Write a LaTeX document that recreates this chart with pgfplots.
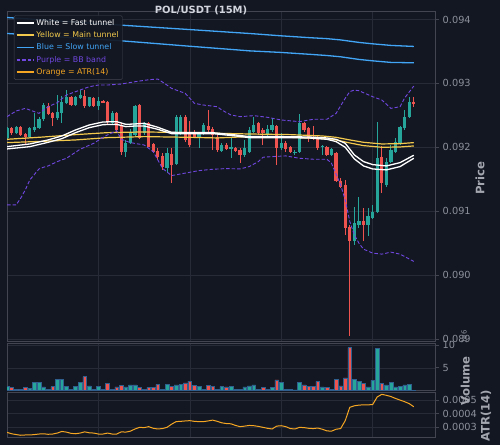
\documentclass[border=0pt]{standalone}
\usepackage{pgfplots}
\pgfplotsset{compat=1.18}
\usepackage{pgfplotstable}
\usepackage{fontspec}
\setmainfont{DejaVu Sans}
\definecolor{bg}{HTML}{131722}
\definecolor{spine}{HTML}{434651}
\definecolor{gridc}{HTML}{262B37}
\definecolor{tickc}{HTML}{8C909A}
\definecolor{labc}{HTML}{A3A6AE}
\definecolor{titc}{HTML}{D1D4DC}
\definecolor{up}{HTML}{26A69A}
\definecolor{dn}{HTML}{EF5350}
\definecolor{yel}{HTML}{F2C94C}
\definecolor{blu}{HTML}{42A5F5}
\definecolor{pur}{HTML}{7047E0}
\definecolor{ora}{HTML}{F5A623}
\definecolor{vedge}{HTML}{2F5F8F}

\pgfplotstableread{
k o h l c v
0 0.092141 0.092313 0.092125 0.092297 0.95
2 0.092219 0.092339 0.092203 0.092323 0.30
5 0.092167 0.092313 0.092141 0.092297 0.45
6 0.092271 0.092531 0.092245 0.092323 1.90
7 0.092297 0.092479 0.092281 0.092438 1.90
8 0.092438 0.092688 0.092417 0.092661 0.85
11 0.092453 0.092818 0.092427 0.092557 2.50
12 0.092542 0.092802 0.092385 0.092714 2.50
13 0.092688 0.092896 0.092677 0.092792 0.90
15 0.092661 0.092802 0.092646 0.092781 0.90
16 0.092766 0.092896 0.092750 0.092818 1.90
18 0.092646 0.092792 0.092635 0.092781 1.05
20 0.092646 0.092781 0.092583 0.092729 0.90
23 0.092375 0.092573 0.092365 0.092542 0.35
26 0.091932 0.092115 0.091854 0.092073 0.85
27 0.092063 0.092281 0.092052 0.092245 1.30
28 0.092193 0.092661 0.092177 0.092646 1.30
30 0.092219 0.092401 0.092193 0.092385 0.30
35 0.091672 0.091984 0.091594 0.091906 1.40
37 0.091740 0.092505 0.091724 0.092479 1.30
38 0.092219 0.092505 0.092193 0.092479 1.40
42 0.092141 0.092245 0.091984 0.092219 0.90
43 0.092219 0.092375 0.092193 0.092349 0.30
47 0.091948 0.092063 0.091932 0.092036 0.90
49 0.091974 0.092167 0.091828 0.092000 0.90
52 0.091880 0.092115 0.091854 0.091984 0.85
53 0.091932 0.092323 0.091906 0.092271 1.05
54 0.092245 0.092479 0.092219 0.092349 1.30
57 0.092203 0.092349 0.092177 0.092281 0.30
58 0.092271 0.092453 0.092245 0.092349 0.70
60 0.091984 0.092219 0.091958 0.092063 1.90
63 0.091906 0.091958 0.091880 0.091932 0.20
64 0.091932 0.092521 0.091917 0.092375 1.80
69 0.092000 0.092036 0.091880 0.092021 0.85
71 0.091880 0.091984 0.091865 0.091969 0.30
76 0.090526 0.091073 0.090474 0.090813 2.40
77 0.090786 0.091229 0.090734 0.090854 2.10
79 0.090786 0.091047 0.090604 0.090917 0.85
80 0.090891 0.091099 0.090875 0.090995 2.25
81 0.090995 0.092401 0.090969 0.091828 9.30
83 0.091411 0.091828 0.091385 0.091776 1.30
84 0.091776 0.092036 0.091750 0.091958 1.80
85 0.091932 0.092141 0.091906 0.092089 0.85
86 0.092063 0.092333 0.092036 0.092323 1.00
87 0.092297 0.092583 0.092271 0.092479 1.30
88 0.092479 0.092792 0.092469 0.092714 1.40
}\upc

\pgfplotstableread{
k o h l c v
1 0.092297 0.092313 0.092193 0.092219 0.70
3 0.092323 0.092339 0.092182 0.092193 0.30
4 0.092203 0.092219 0.092036 0.092167 0.70
9 0.092646 0.092688 0.092505 0.092521 0.30
10 0.092542 0.092557 0.092333 0.092453 0.90
14 0.092781 0.092802 0.092646 0.092661 0.30
17 0.092802 0.092896 0.092609 0.092646 3.05
19 0.092766 0.092781 0.092625 0.092646 0.30
21 0.092724 0.092734 0.092688 0.092698 0.30
22 0.092714 0.092724 0.092349 0.092417 1.55
24 0.092542 0.092557 0.092245 0.092271 0.85
25 0.092349 0.092375 0.091880 0.091932 1.10
29 0.092661 0.092672 0.092125 0.092141 0.70
31 0.092375 0.092391 0.092000 0.092010 0.70
32 0.092047 0.092063 0.091906 0.091932 0.65
33 0.091943 0.091984 0.091802 0.091854 1.40
34 0.091865 0.091906 0.091646 0.091698 0.30
36 0.091896 0.091984 0.091438 0.091724 1.00
39 0.092479 0.092505 0.092089 0.092115 1.70
40 0.092219 0.092411 0.092010 0.092036 2.10
41 0.092245 0.092271 0.092141 0.092167 1.20
44 0.092333 0.092583 0.092245 0.092271 1.20
45 0.092281 0.092313 0.091958 0.092193 0.90
46 0.092167 0.092193 0.091932 0.091958 0.30
48 0.092036 0.092063 0.091958 0.091974 0.85
50 0.091995 0.092010 0.091932 0.091943 0.30
51 0.091958 0.091984 0.091750 0.091880 0.30
55 0.092375 0.092401 0.092193 0.092219 0.30
56 0.092271 0.092297 0.092036 0.092219 0.70
59 0.092333 0.092349 0.091724 0.091984 2.35
61 0.092073 0.092104 0.091932 0.091974 0.30
62 0.092000 0.092021 0.091906 0.091932 0.25
65 0.092375 0.092401 0.092245 0.092271 1.30
66 0.092297 0.092323 0.092089 0.092141 0.90
67 0.092167 0.092333 0.092115 0.092125 0.90
68 0.092167 0.092193 0.091958 0.091984 2.05
70 0.092010 0.092021 0.091865 0.091880 0.70
72 0.091906 0.091932 0.091464 0.091479 2.50
73 0.091479 0.091516 0.091359 0.091385 1.05
74 0.091411 0.091490 0.090630 0.090734 2.80
75 0.090760 0.090786 0.089042 0.090526 9.40
78 0.090854 0.091047 0.090526 0.090786 1.55
82 0.091854 0.092021 0.091281 0.091438 1.60
89 0.092714 0.092792 0.092635 0.092677 0.15
}\dnc

\pgfplotstableread{
k up lo
0 0.092010 0.091974
5 0.092052 0.092010
9 0.092115 0.092078
12 0.092177 0.092135
15 0.092271 0.092229
18 0.092349 0.092307
21 0.092396 0.092354
24 0.092401 0.092359
26 0.092359 0.092323
28 0.092365 0.092333
30 0.092375 0.092333
33 0.092313 0.092281
36 0.092234 0.092214
40 0.092229 0.092214
45 0.092229 0.092214
50 0.092193 0.092177
53 0.092167 0.092151
60 0.092167 0.092151
66 0.092161 0.092146
70 0.092146 0.092125
72 0.092125 0.092089
74 0.092063 0.092000
76 0.091880 0.091818
78 0.091776 0.091708
80 0.091729 0.091661
83 0.091708 0.091646
86 0.091760 0.091698
89 0.091875 0.091828
}\fast

\pgfplotstableread{
k up lo
0 0.092125 0.092073
8 0.092161 0.092094
15 0.092198 0.092115
22 0.092229 0.092151
30 0.092240 0.092167
40 0.092229 0.092156
46 0.092219 0.092146
53 0.092208 0.092167
62 0.092198 0.092156
69 0.092177 0.092135
72 0.092156 0.092115
75 0.092115 0.092068
78 0.092078 0.092026
82 0.092052 0.092000
86 0.092057 0.092005
89 0.092073 0.092021
}\mainT

\pgfplotstableread{
k up lo
0 0.094031 0.093781
10 0.093983 0.093735
20 0.093935 0.093689
25 0.093911 0.093666
30 0.093888 0.093638
40 0.093842 0.093581
50 0.093795 0.093526
53 0.093781 0.093509
60 0.093744 0.093484
66 0.093716 0.093456
70 0.093700 0.093436
73 0.093680 0.093416
77 0.093641 0.093375
80 0.093619 0.093353
84 0.093594 0.093328
89 0.093578 0.093322
}\slow

\pgfplotstableread{
k b
0 0.092479
2 0.092568
4 0.092609
6 0.092557
7 0.092531
9 0.092635
11 0.092698
13 0.092818
15 0.092870
18 0.092948
20 0.092974
22 0.092974
25 0.092990
28 0.093026
31 0.093057
33 0.093068
35 0.092974
36 0.092922
39 0.092844
41 0.092688
43 0.092661
46 0.092635
47 0.092583
49 0.092505
51 0.092479
54 0.092495
57 0.092469
60 0.092427
64 0.092401
67 0.092438
70 0.092438
72 0.092531
74 0.092766
75 0.092870
76 0.092896
77 0.092885
80 0.092792
82 0.092740
84 0.092609
86 0.092635
87 0.092771
89 0.092958
}\bbup

\pgfplotstableread{
k b
0 0.091099
2 0.091099
3 0.091203
4 0.091333
5 0.091490
7 0.091661
8 0.091688
9 0.091708
11 0.091776
13 0.091828
16 0.091969
19 0.092063
21 0.092156
22 0.092193
24 0.092260
25 0.092125
27 0.092073
30 0.092036
32 0.091932
34 0.091672
36 0.091557
38 0.091583
42 0.091635
45 0.091656
48 0.091667
51 0.091661
53 0.091698
55 0.091776
56 0.091844
58 0.091854
61 0.091865
64 0.091828
67 0.091813
70 0.091813
71 0.091750
73 0.091411
74 0.091177
75 0.090839
76 0.090630
77 0.090500
78 0.090406
80 0.090344
82 0.090328
84 0.090359
86 0.090328
89 0.090214
}\bblo

\pgfplotstableread{
k a
0 0.000263
1 0.000253
2 0.000247
3 0.000242
4 0.000244
5 0.000244
6 0.000247
7 0.000251
8 0.000253
9 0.000249
10 0.000251
11 0.000258
12 0.000270
13 0.000265
14 0.000256
15 0.000253
16 0.000258
17 0.000267
18 0.000260
19 0.000258
20 0.000251
21 0.000251
22 0.000258
23 0.000251
24 0.000251
25 0.000267
26 0.000265
27 0.000272
28 0.000288
29 0.000300
30 0.000298
31 0.000305
32 0.000293
33 0.000288
34 0.000291
35 0.000300
36 0.000323
37 0.000342
38 0.000344
39 0.000347
40 0.000349
41 0.000344
42 0.000342
43 0.000342
44 0.000347
45 0.000353
46 0.000344
47 0.000333
48 0.000328
49 0.000326
50 0.000314
51 0.000305
52 0.000309
53 0.000314
54 0.000312
55 0.000307
56 0.000300
57 0.000293
58 0.000288
59 0.000309
60 0.000312
61 0.000305
62 0.000291
63 0.000288
64 0.000300
65 0.000298
66 0.000293
67 0.000291
68 0.000295
69 0.000286
70 0.000274
71 0.000272
72 0.000286
73 0.000291
74 0.000349
75 0.000447
76 0.000458
77 0.000463
78 0.000465
79 0.000465
80 0.000467
81 0.000523
82 0.000542
83 0.000535
84 0.000526
85 0.000512
86 0.000500
87 0.000488
88 0.000474
89 0.000451
}\atr

\pgfplotsset{panel/.style={
  scale only axis, width=428.7bp, xmin=0, xmax=93.8,
  scaled y ticks=false, scaled x ticks=false,
  axis background/.style={fill=bg},
  axis line style={spine, line width=1bp},
  xtick={20,40,60,80}, xticklabels={}, xtick style={draw=none},
  ytick pos=right, yticklabel pos=right, tick align=outside,
  major tick length=3.5bp, ytick style={spine, line width=0.8bp},
  grid=major, major grid style={gridc, line width=0.6bp},
  yticklabel style={font=\fontsize{9.8}{11}\selectfont, text=tickc},
  clip=true},
  candle/.style={only marks, mark size=0pt, mark options={draw opacity=0, fill opacity=0}, forget plot}}

\begin{document}
\begin{tikzpicture}[x=1bp,y=1bp]
\fill[bg] (0bp,0bp) rectangle (500bp,445bp);
\useasboundingbox (0bp,0bp) rectangle (500bp,445bp);

\begin{axis}[panel, at={(7bp,103bp)}, anchor=south west, height=330bp,
  ymin=0.088953, ymax=0.094117,
  ytick={0.089,0.090,0.091,0.092,0.093,0.094},
  yticklabels={0.089,0.090,0.091,0.092,0.093,0.094},
  legend cell align=left,
  legend style={at={(axis description cs:0.016,0.99)}, anchor=north west,
    fill=bg, fill opacity=0.92, text opacity=1, draw=spine, rounded corners=1.5bp,
    font=\fontsize{7.9}{9.4}\selectfont, inner sep=1.8bp, row sep=0.8bp}]
% wicks
\addplot[candle, error bars/.cd, y dir=both, y explicit, error mark=none,
  error bar style={up, line width=0.9bp}]
  table[x=k, y=o, y error plus expr=\thisrow{h}-\thisrow{o}, y error minus expr=\thisrow{o}-\thisrow{l}] {\upc};
\addplot[candle, error bars/.cd, y dir=both, y explicit, error mark=none,
  error bar style={dn, line width=0.9bp}]
  table[x=k, y=o, y error plus expr=\thisrow{h}-\thisrow{o}, y error minus expr=\thisrow{o}-\thisrow{l}] {\dnc};
% bodies
\addplot[candle, error bars/.cd, y dir=plus, y explicit, error mark=none,
  error bar style={up, line width=3.2bp}]
  table[x=k, y=o, y error plus expr=\thisrow{c}-\thisrow{o}] {\upc};
\addplot[candle, error bars/.cd, y dir=minus, y explicit, error mark=none,
  error bar style={dn, line width=3.2bp}]
  table[x=k, y=o, y error minus expr=\thisrow{o}-\thisrow{c}] {\dnc};
% tunnels
\addplot[blu, line width=1.3bp, forget plot] table[x=k, y=up] {\slow};
\addplot[blu, line width=1.3bp, forget plot] table[x=k, y=lo] {\slow};
\addplot[yel, line width=1.2bp, forget plot] table[x=k, y=up] {\mainT};
\addplot[yel, line width=1.2bp, forget plot] table[x=k, y=lo] {\mainT};
\addplot[white, line width=1.3bp, forget plot] table[x=k, y=up] {\fast};
\addplot[white, line width=1.3bp, forget plot] table[x=k, y=lo] {\fast};
\addplot[pur, line width=0.9bp, dash pattern=on 3.5bp off 2bp, forget plot] table[x=k, y=b] {\bbup};
\addplot[pur, line width=0.9bp, dash pattern=on 3.5bp off 2bp, forget plot] table[x=k, y=b] {\bblo};
% legend
\addlegendimage{white, line width=1.6bp}
\addlegendentry{\textcolor{white}{White = Fast tunnel}}
\addlegendimage{yel, line width=1.6bp}
\addlegendentry{\textcolor{yel}{Yellow = Main tunnel}}
\addlegendimage{blu, line width=1.6bp}
\addlegendentry{\textcolor{blu}{Blue = Slow tunnel}}
\addlegendimage{pur, line width=1.6bp, dash pattern=on 3.5bp off 2bp}
\addlegendentry{\textcolor{pur}{Purple = BB band}}
\addlegendimage{ora, line width=1.6bp}
\addlegendentry{\textcolor{ora}{Orange = ATR(14)}}
\end{axis}

\begin{axis}[panel, at={(7bp,54.3bp)}, anchor=south west, height=47.4bp,
  ymin=0, ymax=10.36, ytick={5,10}, yticklabels={5,10}]
\addplot[ybar, bar width=0.82, bar shift=0pt, fill=up, draw=vedge, line width=0.5bp] table[x=k, y=v] {\upc};
\addplot[ybar, bar width=0.82, bar shift=0pt, fill=dn, draw=vedge, line width=0.5bp] table[x=k, y=v] {\dnc};
\end{axis}

\begin{axis}[panel, at={(7bp,7.7bp)}, anchor=south west, height=45bp,
  ymin=0.000227, ymax=0.000557, ytick={0.0003,0.0004,0.0005},
  yticklabels={0.0003,0.0004,0.0005}]
\addplot[ora, line width=1bp] table[x=k, y=a] {\atr};
\end{axis}

\node[font=\fontsize{10}{12}\selectfont\bfseries, text=titc, anchor=base] at (201bp,431bp) {POL/USDT (15M)};
\node[rotate=90, font=\fontsize{11.7}{13}\selectfont\bfseries, text=labc] at (480bp,267bp) {Price};
\node[rotate=90, font=\fontsize{11.7}{13}\selectfont\bfseries, text=labc] at (465.3bp,64bp) {Volume};
\node[rotate=90, font=\fontsize{11.7}{13}\selectfont\bfseries, text=labc] at (486bp,29bp) {ATR(14)};
\node[rotate=90, font=\fontsize{7}{8}\selectfont, text=tickc] at (464bp,108bp) {1e6};
\end{tikzpicture}
\end{document}
